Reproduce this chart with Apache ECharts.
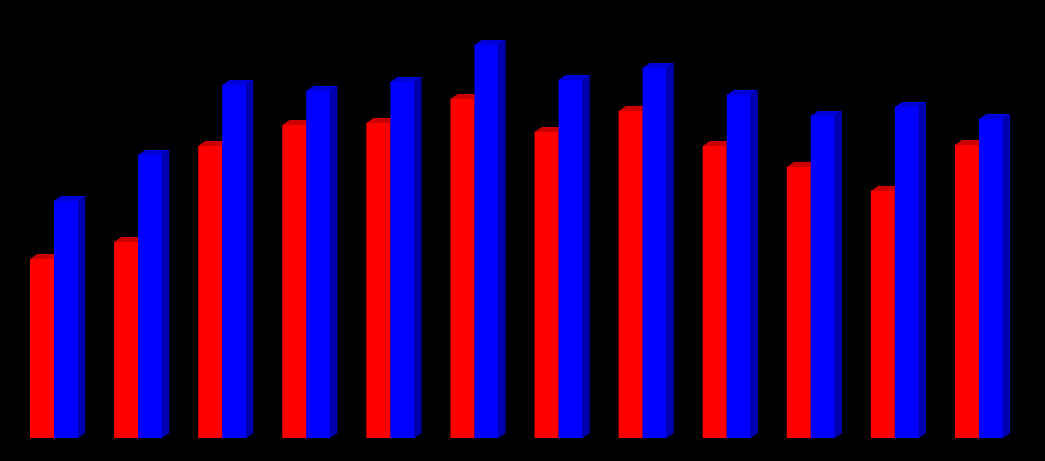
<!DOCTYPE html>
<html>
<head>
<meta charset="utf-8">
<script src="https://cdn.jsdelivr.net/npm/echarts@6/dist/echarts.min.js"></script>
<style>html,body{margin:0;padding:0;background:#000;}#c{width:1045px;height:461px;}</style>
</head>
<body>
<div id="c"></div>
<script>
const categories = ['1','2','3','4','5','6','7','8','9','10','11','12'];
const redValues  = [179, 196, 292, 313, 315, 339, 306, 327, 292, 271, 247, 293];
const blueValues = [237, 283, 353, 347, 356, 393, 358, 370, 343, 322, 331, 319];

function makeRender(slot, front, top, side) {
  return function (params, api) {
    const idx = api.value(0);
    const val = api.value(1);
    const pTop = api.coord([idx, val]);
    const pBase = api.coord([idx, 0]);
    const band = api.size([1, 0])[0];
    const w = band * 0.2855;
    const dx = band * 0.085;
    const dy = 5;
    const x0 = pTop[0] + (slot === 0 ? -w : 0);
    const x1 = x0 + w;
    const yT = pTop[1], yB = pBase[1];
    return {
      type: 'group',
      children: [
        { type: 'polygon', shape: { points: [[x1, yT], [x1 + dx, yT - dy], [x1 + dx, yB - dy], [x1, yB]] }, style: { fill: side } },
        { type: 'polygon', shape: { points: [[x0, yT], [x1, yT], [x1 + dx, yT - dy], [x0 + dx, yT - dy]] }, style: { fill: top } },
        { type: 'rect', shape: { x: x0, y: yT, width: w, height: yB - yT }, style: { fill: front } }
      ]
    };
  };
}

const chart = echarts.init(document.getElementById('c'));
chart.setOption({
  backgroundColor: '#000000',
  animation: false,
  grid: { left: 12, right: 24, top: 23, bottom: 23 },
  xAxis: { type: 'category', data: categories, show: false },
  yAxis: { type: 'value', min: 0, max: 415, show: false },
  series: [
    { type: 'custom', renderItem: makeRender(0, '#ff0000', '#cc0000', '#aa0000'), data: redValues.map((v, i) => [i, v]) },
    { type: 'custom', renderItem: makeRender(1, '#0000ff', '#0000d8', '#0000b0'), data: blueValues.map((v, i) => [i, v]) }
  ]
});
</script>
</body>
</html>
